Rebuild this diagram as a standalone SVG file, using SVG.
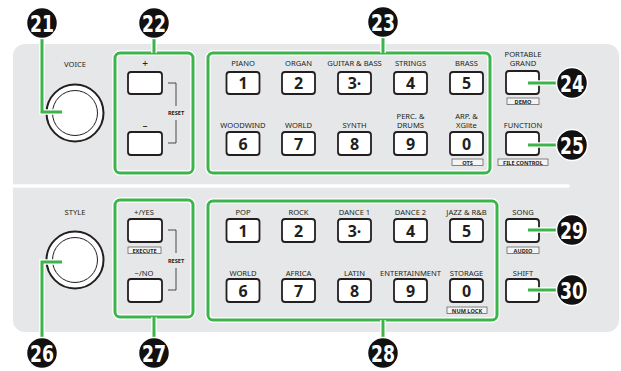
<svg xmlns="http://www.w3.org/2000/svg" width="621" height="371" viewBox="0 0 621 371">
<style>
.lbl{font-family:"Noto Sans","Open Sans",sans-serif;font-size:7.6px;fill:#231f20;text-anchor:middle}
.btn{fill:#fff;stroke:#231f20;stroke-width:1.8}
.dig{font-family:"Noto Sans","Open Sans",sans-serif;font-size:16px;font-weight:bold;fill:#231f20;text-anchor:middle}
.sub{fill:#f4f4f4;stroke:#666;stroke-width:0.8}
.subt{font-family:"Noto Sans","Open Sans",sans-serif;font-size:5.6px;font-weight:bold;fill:#231f20;text-anchor:middle}
.grp{fill:none;stroke:#3cb44b;stroke-width:3}
.halo{fill:none;stroke:#fff;stroke-width:5.5}
.con{fill:none;stroke:#3cb44b;stroke-width:3}
.num{fill:#111;stroke:#fff;stroke-width:1.5}
.numt{font-family:"DejaVu Sans Condensed","DejaVu Sans",sans-serif;font-size:23px;font-weight:bold;fill:#fff;text-anchor:middle}
.brk{fill:none;stroke:#231f20;stroke-width:0.8}
.rst{font-family:"Noto Sans","Open Sans",sans-serif;font-size:5.6px;font-weight:bold;fill:#231f20;text-anchor:middle}
</style>
<rect x="13" y="44" width="606" height="288" rx="12" fill="#e6e7e8"/>
<line x1="13" y1="186" x2="568" y2="186" stroke="#fff" stroke-width="3.5" stroke-linecap="round"/>

<!-- group frames -->
<g id="frame22"><rect class="halo" x="115" y="53" width="78" height="120" rx="5"/><rect class="grp" x="115" y="53" width="78" height="120" rx="5"/></g>
<g id="frame23"><rect class="halo" x="208" y="53" width="282" height="120" rx="5"/><rect class="grp" x="208" y="53" width="282" height="120" rx="5"/></g>
<g id="frame27"><rect class="halo" x="115" y="200" width="78" height="117" rx="5"/><rect class="grp" x="115" y="200" width="78" height="117" rx="5"/></g>
<g id="frame28"><rect class="halo" x="208" y="201" width="289" height="119" rx="5"/><rect class="grp" x="208" y="201" width="289" height="119" rx="5"/></g>

<!-- dials -->
<g id="voice">
<text class="lbl" x="75" y="67">VOICE</text>
<circle cx="75" cy="113" r="28.5" fill="#fff" stroke="#231f20" stroke-width="2"/>
<circle cx="75" cy="113" r="22.5" fill="#fff" stroke="#231f20" stroke-width="1"/>
</g>
<g id="style">
<text class="lbl" x="75" y="215">STYLE</text>
<circle cx="75" cy="260" r="28.5" fill="#fff" stroke="#231f20" stroke-width="2"/>
<circle cx="75" cy="260" r="22.5" fill="#fff" stroke="#231f20" stroke-width="1"/>
</g>

<!-- voice +/- -->
<g id="voice-plus"><text class="lbl" x="145" y="67" style="font-size:10px">+</text><rect class="btn" x="128" y="72" width="34" height="22" rx="3"/></g>
<g id="voice-minus"><text class="lbl" x="145" y="129" style="font-size:10px">–</text><rect class="btn" x="128" y="132" width="34" height="23" rx="3"/></g>
<g id="voice-reset"><path class="brk" d="M168,83H176V106M176,120V143H168"/><text class="rst" x="176" y="115">RESET</text></g>

<!-- style +/- -->
<g id="style-yes"><text class="lbl" x="144" y="215">+/YES</text><rect class="btn" x="128" y="219" width="34" height="23" rx="3"/>
<rect class="sub" x="128" y="247" width="33" height="6.5"/><text class="subt" x="144.5" y="252.5">EXECUTE</text></g>
<g id="style-no"><text class="lbl" x="144" y="276">−/NO</text><rect class="btn" x="128" y="279" width="34" height="23" rx="3"/></g>
<g id="style-reset"><path class="brk" d="M168,230H176V253M176,268V290H168"/><text class="rst" x="176" y="263">RESET</text></g>

<!-- voice category buttons -->
<g id="piano"><text class="lbl" x="243" y="66">PIANO</text><rect class="btn" x="226.5" y="72" width="33" height="22" rx="3"/><text class="dig" x="243" y="89">1</text></g>
<g id="organ"><text class="lbl" x="298.5" y="66">ORGAN</text><rect class="btn" x="282" y="72" width="33" height="22" rx="3"/><text class="dig" x="298.5" y="89">2</text></g>
<g id="guitar"><text class="lbl" x="354.5" y="66">GUITAR &amp; BASS</text><rect class="btn" x="338" y="72" width="33" height="22" rx="3"/><text class="dig" x="354.5" y="89">3·</text></g>
<g id="strings"><text class="lbl" x="410.5" y="66">STRINGS</text><rect class="btn" x="394" y="72" width="33" height="22" rx="3"/><text class="dig" x="410.5" y="89">4</text></g>
<g id="brass"><text class="lbl" x="466.5" y="66">BRASS</text><rect class="btn" x="450" y="72" width="33" height="22" rx="3"/><text class="dig" x="466.5" y="89">5</text></g>
<g id="woodwind"><text class="lbl" x="243" y="128">WOODWIND</text><rect class="btn" x="226.5" y="132" width="33" height="23" rx="3"/><text class="dig" x="243" y="149.5">6</text></g>
<g id="world"><text class="lbl" x="298.5" y="128">WORLD</text><rect class="btn" x="282" y="132" width="33" height="23" rx="3"/><text class="dig" x="298.5" y="149.5">7</text></g>
<g id="synth"><text class="lbl" x="354.5" y="128">SYNTH</text><rect class="btn" x="338" y="132" width="33" height="23" rx="3"/><text class="dig" x="354.5" y="149.5">8</text></g>
<g id="perc"><text class="lbl" x="410.5" y="119">PERC. &amp;</text><text class="lbl" x="410.5" y="128">DRUMS</text><rect class="btn" x="394" y="132" width="33" height="23" rx="3"/><text class="dig" x="410.5" y="149.5">9</text></g>
<g id="arp"><text class="lbl" x="466.5" y="119">ARP. &amp;</text><text class="lbl" x="466.5" y="128">XGlite</text><rect class="btn" x="450" y="132" width="33" height="23" rx="3"/><text class="dig" x="466.5" y="149.5">0</text>
<rect class="sub" x="452" y="159" width="31" height="6.5"/><text class="subt" x="467.5" y="164.5">OTS</text></g>

<!-- right upper -->
<g id="portable-grand"><text class="lbl" x="523" y="57">PORTABLE</text><text class="lbl" x="523" y="66">GRAND</text><rect class="btn" x="506" y="71" width="33" height="23" rx="3"/>
<rect class="sub" x="507" y="98" width="32" height="6.5"/><text class="subt" x="523" y="103.5">DEMO</text></g>
<g id="function"><text class="lbl" x="523" y="128">FUNCTION</text><rect class="btn" x="506" y="132" width="33" height="23" rx="3"/>
<rect class="sub" x="498" y="159" width="50" height="6.5"/><text class="subt" x="523" y="164.5">FILE CONTROL</text></g>

<!-- style category buttons -->
<g id="pop"><text class="lbl" x="243" y="215">POP</text><rect class="btn" x="226.5" y="219" width="33" height="23" rx="3"/><text class="dig" x="243" y="236.5">1</text></g>
<g id="rock"><text class="lbl" x="298.5" y="215">ROCK</text><rect class="btn" x="282" y="219" width="33" height="23" rx="3"/><text class="dig" x="298.5" y="236.5">2</text></g>
<g id="dance1"><text class="lbl" x="354.5" y="215">DANCE 1</text><rect class="btn" x="338" y="219" width="33" height="23" rx="3"/><text class="dig" x="354.5" y="236.5">3·</text></g>
<g id="dance2"><text class="lbl" x="410.5" y="215">DANCE 2</text><rect class="btn" x="394" y="219" width="33" height="23" rx="3"/><text class="dig" x="410.5" y="236.5">4</text></g>
<g id="jazz"><text class="lbl" x="466.5" y="215">JAZZ &amp; R&amp;B</text><rect class="btn" x="450" y="219" width="33" height="23" rx="3"/><text class="dig" x="466.5" y="236.5">5</text></g>
<g id="world2"><text class="lbl" x="243" y="276">WORLD</text><rect class="btn" x="226.5" y="279" width="33" height="23" rx="3"/><text class="dig" x="243" y="296.5">6</text></g>
<g id="africa"><text class="lbl" x="298.5" y="276">AFRICA</text><rect class="btn" x="282" y="279" width="33" height="23" rx="3"/><text class="dig" x="298.5" y="296.5">7</text></g>
<g id="latin"><text class="lbl" x="354.5" y="276">LATIN</text><rect class="btn" x="338" y="279" width="33" height="23" rx="3"/><text class="dig" x="354.5" y="296.5">8</text></g>
<g id="entertainment"><text class="lbl" x="410.5" y="276">ENTERTAINMENT</text><rect class="btn" x="394" y="279" width="33" height="23" rx="3"/><text class="dig" x="410.5" y="296.5">9</text></g>
<g id="storage"><text class="lbl" x="466.5" y="276">STORAGE</text><rect class="btn" x="450" y="279" width="33" height="23" rx="3"/><text class="dig" x="466.5" y="296.5">0</text>
<rect class="sub" x="447" y="307" width="40" height="6.5"/><text class="subt" x="467" y="312.5">NUM LOCK</text></g>

<!-- right lower -->
<g id="song"><text class="lbl" x="523" y="215">SONG</text><rect class="btn" x="506" y="219" width="33" height="23" rx="3"/>
<rect class="sub" x="507" y="247" width="32" height="6.5"/><text class="subt" x="523" y="252.5">AUDIO</text></g>
<g id="shift"><text class="lbl" x="523" y="276">SHIFT</text><rect class="btn" x="506" y="279" width="33" height="23" rx="3"/></g>

<!-- connectors -->
<g id="connectors">
<path class="halo" d="M42,38V112H62M154,38V53M383,37V53M528,83H557M528,145H557M62,262H42V338M154,317V338M383,320V338M528,230H557M528,290H557"/>
<path class="con" d="M42,38V112H62M154,38V53M383,37V53M528,83H557M528,145H557M62,262H42V338M154,317V338M383,320V338M528,230H557M528,290H557"/>
</g>

<!-- callout numbers -->
<g id="n21"><circle class="num" cx="42" cy="23" r="15.5"/><text class="numt" x="42" y="31.5" textLength="24" lengthAdjust="spacingAndGlyphs">21</text></g>
<g id="n22"><circle class="num" cx="154" cy="23" r="15.5"/><text class="numt" x="154" y="31.5" textLength="24" lengthAdjust="spacingAndGlyphs">22</text></g>
<g id="n23"><circle class="num" cx="383" cy="22" r="15.5"/><text class="numt" x="383" y="30.5" textLength="24" lengthAdjust="spacingAndGlyphs">23</text></g>
<g id="n24"><circle class="num" cx="572" cy="83" r="15.5"/><text class="numt" x="572" y="91.5" textLength="24" lengthAdjust="spacingAndGlyphs">24</text></g>
<g id="n25"><circle class="num" cx="572" cy="145" r="15.5"/><text class="numt" x="572" y="153.5" textLength="24" lengthAdjust="spacingAndGlyphs">25</text></g>
<g id="n26"><circle class="num" cx="42" cy="353" r="15.5"/><text class="numt" x="42" y="361.5" textLength="24" lengthAdjust="spacingAndGlyphs">26</text></g>
<g id="n27"><circle class="num" cx="154" cy="353" r="15.5"/><text class="numt" x="154" y="361.5" textLength="24" lengthAdjust="spacingAndGlyphs">27</text></g>
<g id="n28"><circle class="num" cx="383" cy="353" r="15.5"/><text class="numt" x="383" y="361.5" textLength="24" lengthAdjust="spacingAndGlyphs">28</text></g>
<g id="n29"><circle class="num" cx="572" cy="230" r="15.5"/><text class="numt" x="572" y="238.5" textLength="24" lengthAdjust="spacingAndGlyphs">29</text></g>
<g id="n30"><circle class="num" cx="572" cy="290" r="15.5"/><text class="numt" x="572" y="298.5" textLength="24" lengthAdjust="spacingAndGlyphs">30</text></g>
</svg>
